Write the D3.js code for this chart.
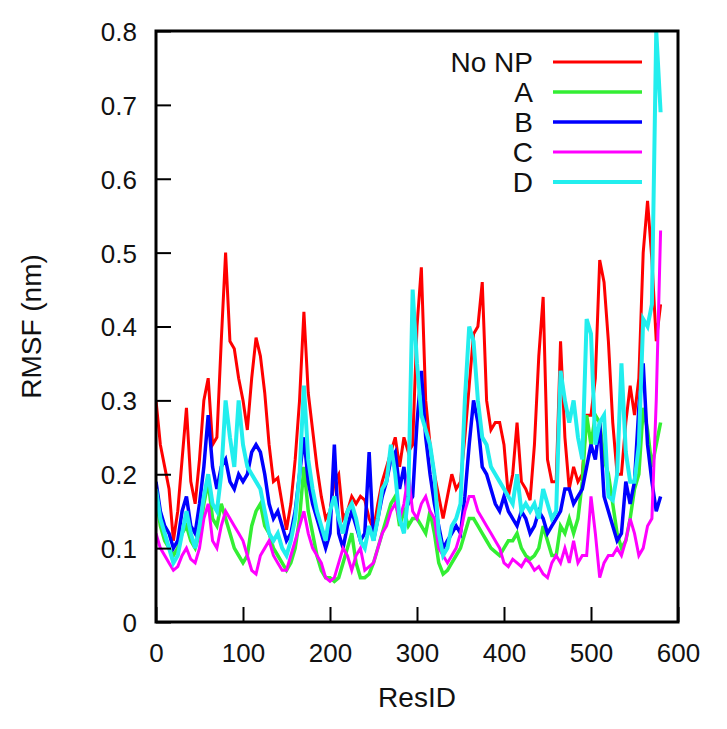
<!DOCTYPE html>
<html>
<head>
<meta charset="utf-8">
<script src="https://cdn.jsdelivr.net/npm/d3@7"></script>
<style>
  html, body { margin: 0; padding: 0; background: #fff; }
  svg { display: block; font-family: "Liberation Sans", Arial, sans-serif; }
</style>
</head>
<body>
<svg id="chart" width="727" height="729"></svg>
<script>
// ---- data ----
const resIds = d3.range(0, 581, 5);

const noNP = [0.30,0.24,0.21,0.18,0.11,0.15,0.22,0.29,0.19,0.16,0.22,0.30,0.33,0.24,0.25,0.38,0.50,0.38,0.37,0.33,
  0.30,0.26,0.33,0.385,0.36,0.31,0.24,0.19,0.195,0.16,0.125,0.16,0.22,0.30,0.42,0.31,0.26,0.21,0.17,0.14,
  0.15,0.19,0.20,0.14,0.15,0.17,0.16,0.17,0.165,0.14,0.125,0.16,0.19,0.21,0.23,0.25,0.21,0.25,0.23,0.24,
  0.40,0.48,0.30,0.24,0.20,0.17,0.14,0.17,0.20,0.18,0.19,0.25,0.32,0.39,0.40,0.46,0.30,0.26,0.27,0.27,
  0.24,0.17,0.20,0.27,0.19,0.18,0.165,0.24,0.36,0.44,0.22,0.19,0.19,0.38,0.25,0.18,0.21,0.19,0.20,0.28,
  0.28,0.33,0.49,0.46,0.38,0.27,0.20,0.20,0.27,0.32,0.28,0.33,0.50,0.57,0.49,0.38,0.43];

const seriesA = [0.17,0.13,0.11,0.10,0.09,0.10,0.12,0.13,0.11,0.10,0.12,0.16,0.19,0.14,0.13,0.16,0.14,0.12,0.10,0.09,
  0.08,0.09,0.13,0.15,0.16,0.13,0.12,0.10,0.09,0.08,0.07,0.08,0.10,0.14,0.21,0.15,0.12,0.09,0.07,0.06,
  0.06,0.055,0.06,0.08,0.10,0.12,0.08,0.06,0.06,0.065,0.08,0.10,0.12,0.14,0.16,0.17,0.13,0.15,0.13,0.14,
  0.14,0.13,0.12,0.15,0.12,0.08,0.065,0.07,0.08,0.09,0.10,0.12,0.14,0.14,0.13,0.12,0.11,0.10,0.095,0.09,
  0.10,0.11,0.11,0.12,0.10,0.09,0.085,0.09,0.10,0.13,0.11,0.09,0.09,0.13,0.12,0.14,0.12,0.14,0.19,0.28,
  0.24,0.28,0.27,0.22,0.20,0.16,0.12,0.10,0.11,0.14,0.18,0.20,0.29,0.26,0.21,0.24,0.27];

const seriesB = [0.19,0.15,0.13,0.12,0.10,0.11,0.15,0.17,0.13,0.12,0.16,0.21,0.28,0.21,0.18,0.21,0.22,0.19,0.18,0.20,
  0.19,0.20,0.23,0.24,0.23,0.20,0.16,0.14,0.15,0.13,0.11,0.12,0.15,0.20,0.25,0.19,0.16,0.14,0.12,0.10,
  0.12,0.24,0.12,0.10,0.13,0.15,0.13,0.11,0.12,0.23,0.11,0.14,0.17,0.19,0.22,0.23,0.18,0.21,0.16,0.17,
  0.27,0.34,0.25,0.20,0.16,0.13,0.10,0.11,0.12,0.13,0.12,0.17,0.24,0.30,0.27,0.21,0.20,0.18,0.16,0.15,
  0.17,0.15,0.14,0.13,0.15,0.14,0.12,0.13,0.15,0.14,0.12,0.13,0.14,0.15,0.18,0.18,0.16,0.17,0.18,0.21,
  0.24,0.22,0.27,0.17,0.15,0.13,0.11,0.12,0.19,0.16,0.19,0.29,0.35,0.24,0.19,0.15,0.17];

const seriesC = [0.12,0.10,0.09,0.08,0.07,0.075,0.09,0.10,0.085,0.08,0.10,0.14,0.16,0.11,0.10,0.13,0.15,0.14,0.13,0.12,
  0.11,0.09,0.07,0.065,0.09,0.10,0.11,0.09,0.08,0.07,0.07,0.09,0.11,0.13,0.15,0.12,0.10,0.09,0.08,0.06,
  0.055,0.06,0.08,0.10,0.09,0.07,0.09,0.10,0.07,0.075,0.08,0.10,0.12,0.13,0.15,0.16,0.14,0.16,0.20,0.15,
  0.14,0.16,0.17,0.15,0.14,0.10,0.09,0.08,0.09,0.10,0.12,0.15,0.17,0.17,0.15,0.14,0.13,0.12,0.11,0.10,
  0.08,0.075,0.085,0.08,0.075,0.085,0.08,0.07,0.075,0.065,0.06,0.08,0.09,0.08,0.10,0.08,0.11,0.08,0.09,0.09,
  0.17,0.12,0.06,0.08,0.09,0.09,0.10,0.09,0.11,0.14,0.12,0.09,0.10,0.13,0.14,0.30,0.53];

const seriesD = [0.18,0.14,0.12,0.10,0.08,0.09,0.12,0.15,0.12,0.10,0.13,0.17,0.20,0.16,0.15,0.20,0.30,0.25,0.21,0.30,
  0.24,0.21,0.20,0.19,0.18,0.15,0.12,0.11,0.12,0.10,0.09,0.11,0.14,0.20,0.32,0.22,0.18,0.15,0.13,0.11,
  0.15,0.17,0.14,0.12,0.15,0.16,0.14,0.11,0.10,0.13,0.11,0.14,0.18,0.19,0.24,0.20,0.14,0.12,0.17,0.45,
  0.35,0.28,0.26,0.24,0.20,0.12,0.09,0.10,0.13,0.14,0.16,0.30,0.40,0.38,0.30,0.25,0.24,0.21,0.20,0.19,
  0.18,0.17,0.16,0.20,0.15,0.16,0.15,0.16,0.14,0.18,0.16,0.14,0.15,0.34,0.30,0.27,0.30,0.25,0.22,0.41,
  0.39,0.24,0.27,0.28,0.17,0.165,0.20,0.35,0.23,0.19,0.19,0.24,0.41,0.40,0.43,0.80,0.69];

const seriesNames = ["No NP", "A", "B", "C", "D"];
const seriesColors = ["#ff0000", "#33ee33", "#0000ff", "#ff00ff", "#22eeee"];
const seriesWidths = [3, 3.5, 3.5, 3, 4];
const allSeries = [noNP, seriesA, seriesB, seriesC, seriesD];

const xTicks = [0, 100, 200, 300, 400, 500, 600];
const yTicks = [0, 0.1, 0.2, 0.3, 0.4, 0.5, 0.6, 0.7, 0.8];

// ---- layout ----
const L = 156, R = 678, T = 31, B = 622;
const svg = d3.select("#chart");

const x = d3.scaleLinear().domain([0, 600]).range([L, R]);
const y = d3.scaleLinear().domain([0, 0.8]).range([B, T]);

svg.append("defs").append("clipPath").attr("id", "plotclip")
  .append("rect").attr("x", L).attr("y", T).attr("width", R - L).attr("height", B - T);

// lines
const line = d3.line().x((d, i) => x(resIds[i])).y(d => y(d));
const gLines = svg.append("g").attr("clip-path", "url(#plotclip)");
allSeries.forEach((s, k) => {
  gLines.append("path").datum(s)
    .attr("d", line)
    .attr("fill", "none")
    .attr("stroke", seriesColors[k])
    .attr("stroke-width", seriesWidths[k])
    .attr("stroke-linejoin", "miter");
});

// axes
const fmtY = d => d === 0 ? "0" : d.toFixed(1);
const yAxis = d3.axisLeft(y).tickValues(yTicks).tickFormat(fmtY).tickSizeInner(-15).tickSizeOuter(0).tickPadding(19);
const xAxis = d3.axisBottom(x).tickValues(xTicks).tickFormat(d3.format("d")).tickSizeInner(-15).tickSizeOuter(0).tickPadding(22);

const gy = svg.append("g").attr("transform", `translate(${L},0)`).call(yAxis);
const gx = svg.append("g").attr("transform", `translate(0,${B})`).call(xAxis);
[gx, gy].forEach(g => {
  g.select(".domain").remove();
  g.selectAll(".tick line").attr("stroke", "#000").attr("stroke-width", 2);
  g.selectAll(".tick text").attr("fill", "#111").style("font-size", "26px");
});
gy.selectAll(".tick text").attr("dy", "0.36em");

// frame
svg.append("rect").attr("x", L).attr("y", T).attr("width", R - L).attr("height", B - T)
  .attr("fill", "none").attr("stroke", "#000").attr("stroke-width", 3);

// axis titles
svg.append("text").attr("x", (L + R) / 2).attr("y", 707).attr("text-anchor", "middle")
  .style("font-size", "28px").attr("fill", "#111").text("ResID");
svg.append("text").attr("transform", `translate(41,${(T + B) / 2}) rotate(-90)`)
  .attr("text-anchor", "middle").style("font-size", "28px").attr("fill", "#111").text("RMSF (nm)");

// legend
const legend = svg.append("g");
seriesNames.forEach((name, k) => {
  const ly = 62 + k * 30;
  legend.append("text").attr("x", 533).attr("y", ly + 10).attr("text-anchor", "end")
    .style("font-size", "28px").attr("fill", "#111").text(name);
  legend.append("line").attr("x1", 553).attr("x2", 642).attr("y1", ly).attr("y2", ly)
    .attr("stroke", seriesColors[k]).attr("stroke-width", seriesWidths[k]);
});
</script>
</body>
</html>
